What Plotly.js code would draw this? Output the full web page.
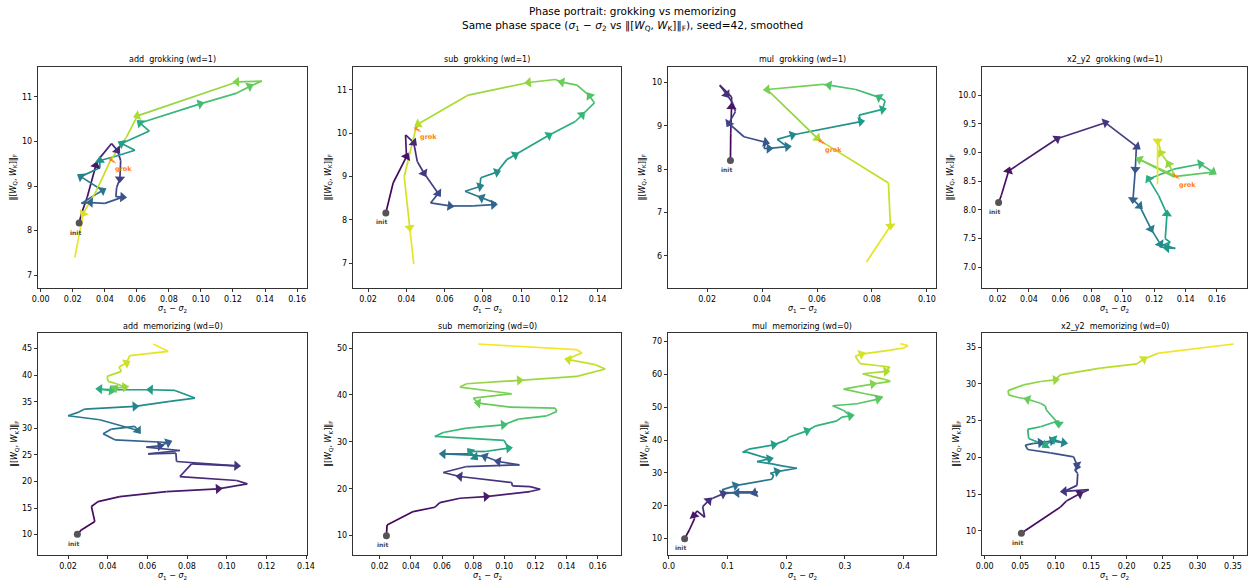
<!DOCTYPE html>
<html><head><meta charset="utf-8">
<script src="https://cdn.plot.ly/plotly-3.0.1.min.js"></script>
<style>html,body{margin:0;padding:0;background:#fff}</style>
</head><body><div id="chart" style="width:1251px;height:584px"></div>
<script>
// ---------- data ----------
const panelTitles = ['add  grokking (wd=1)','sub  grokking (wd=1)','mul  grokking (wd=1)','x2_y2  grokking (wd=1)',
                     'add  memorizing (wd=0)','sub  memorizing (wd=0)','mul  memorizing (wd=0)','x2_y2  memorizing (wd=0)'];

const addGrokX = [0.0240,0.0254,0.0290,0.0344,0.0369,0.0442,0.0478,0.0499,0.0494,0.0474,0.0469,0.0511,0.0400,0.0311,0.0254,0.0348,0.0386,0.0250,0.0369,0.0369,0.0453,0.0588,0.0505,0.0678,0.0620,0.0995,0.1224,0.1304,0.1381,0.1224,0.0603,0.0536,0.0438,0.0348,0.0265,0.0213];
const addGrokY = [8.17,8.38,8.75,9.46,9.63,9.95,9.80,9.57,9.16,8.97,8.76,8.75,8.61,8.63,8.61,8.82,8.90,9.21,9.41,9.57,9.65,9.80,9.95,10.23,10.41,10.84,11.08,11.23,11.35,11.33,10.57,10.10,9.59,8.90,8.38,7.40];
const addGrokArrows = [3,6,8,11,13,16,17,19,22,24,25,27,29,30,34];
const addGrokStep = 32;

const subGrokX = [0.0293,0.0331,0.0401,0.0396,0.0439,0.0457,0.0492,0.0567,0.0527,0.0628,0.0750,0.0855,0.0869,0.0794,0.0707,0.0785,0.0789,0.0873,0.0925,0.0969,0.1145,0.1283,0.1318,0.1383,0.1358,0.1292,0.1213,0.1178,0.1039,0.0724,0.0462,0.0450,0.0389,0.0418,0.0439];
const subGrokY = [8.16,8.85,9.46,9.96,9.78,9.35,9.08,8.61,8.39,8.32,8.32,8.35,8.38,8.51,8.66,8.77,8.97,9.10,9.39,9.50,9.95,10.27,10.42,10.70,10.86,11.11,11.18,11.24,11.17,10.88,10.21,10.11,9.00,7.82,6.98];
const subGrokArrows = [2,4,6,7,9,11,13,15,17,19,20,22,24,26,28,30,33];
const subGrokStep = 31;

const mulGrokX = [0.0285,0.0286,0.0289,0.0289,0.0246,0.0271,0.0294,0.0303,0.0279,0.0334,0.0413,0.0407,0.0425,0.0492,0.0455,0.0510,0.0759,0.0753,0.0838,0.0848,0.0826,0.0741,0.0644,0.0620,0.0419,0.0601,0.0611,0.0860,0.0867,0.0780];
const mulGrokY = [8.20,8.83,9.44,9.67,9.94,9.73,9.52,9.33,9.06,8.75,8.62,8.48,8.48,8.52,8.69,8.79,9.10,9.25,9.38,9.58,9.66,9.84,9.94,9.96,9.84,8.72,8.66,7.68,6.69,5.86];
const mulGrokArrows = [2,5,8,10,12,13,15,16,18,20,22,24,25,28];
const mulGrokStep = 26;

const x2GrokX = [0.0206,0.0223,0.0270,0.0579,0.0887,0.1090,0.1085,0.1079,0.1064,0.1106,0.1179,0.1238,0.1334,0.1281,0.1234,0.1302,0.1270,0.1281,0.1228,0.1164,0.1324,0.1494,0.1575,0.1324,0.1106,0.1217,0.1330,0.1292,0.1243,0.1221,0.1221,0.1221];
const x2GrokY = [8.13,8.25,8.68,9.24,9.52,9.10,9.06,8.71,8.18,8.07,7.67,7.41,7.33,7.34,7.36,7.44,7.50,7.93,8.25,8.54,8.71,8.80,8.66,8.58,8.88,8.74,8.60,8.80,8.99,9.24,9.20,8.45];
const x2GrokArrows = [2,3,4,5,7,8,9,10,11,13,17,19,21,22,24,27,28,30];
const x2GrokStep = 26;

const addMemX = [0.0247,0.0267,0.0335,0.0318,0.0351,0.0461,0.0696,0.0957,0.1104,0.1050,0.0764,0.0823,0.1050,0.0747,0.0744,0.0604,0.0764,0.0595,0.0663,0.0705,0.0436,0.0377,0.0419,0.0537,0.0553,0.0360,0.0200,0.0250,0.0284,0.0537,0.0713,0.0840,0.0739,0.0616,0.0427,0.0360,0.0419,0.0436,0.0486,0.0444,0.0402,0.0397,0.0469,0.0457,0.0495,0.0511,0.0705,0.0629];
const addMemY = [10.06,10.88,12.45,15.28,16.22,17.16,18.10,18.61,19.55,20.18,20.93,23.32,22.94,23.76,25.33,25.21,25.83,26.46,26.71,27.34,27.84,28.97,29.86,30.36,29.60,31.62,32.37,33.00,33.63,34.13,35.07,35.70,37.14,37.27,37.27,37.40,37.08,37.58,37.77,38.40,38.84,39.78,40.73,41.54,42.30,43.68,44.50,45.88];
const addMemArrows = [7,12,18,19,24,29,33,35,36,37,38,44];

const subMemX = [0.0243,0.0247,0.0415,0.0554,0.0586,0.0715,0.0883,0.1166,0.1231,0.1166,0.1052,0.1048,0.0715,0.0608,0.0758,0.1097,0.0962,0.0876,0.0801,0.0608,0.0790,0.0812,0.0780,0.0876,0.1027,0.0999,0.0554,0.0608,0.0758,0.0994,0.1091,0.1273,0.1338,0.1327,0.1037,0.0833,0.0801,0.1048,0.0715,0.0758,0.1097,0.1467,0.1649,0.1585,0.1413,0.1445,0.1499,0.1467,0.0833];
const subMemY = [10.00,12.28,15.13,16.05,17.05,17.97,18.33,19.40,19.89,20.46,20.61,21.32,22.60,23.45,24.73,25.09,25.80,26.87,27.15,27.44,27.44,26.73,27.94,27.94,28.65,30.29,31.14,31.99,32.92,33.63,34.84,35.55,36.48,37.19,37.40,38.26,39.32,40.25,41.67,42.38,43.10,43.95,45.52,46.44,47.51,48.22,48.93,49.64,50.85];
const subMemArrows = [6,12,16,17,19,21,22,24,29,35,40,44];

const mulMemX = [0.0272,0.0352,0.0443,0.0431,0.0482,0.0613,0.0579,0.0681,0.0749,0.0925,0.1192,0.1515,0.1464,0.1163,0.0965,0.0908,0.1135,0.1759,0.1787,0.1731,0.1844,0.2184,0.1929,0.1759,0.1504,0.1714,0.1333,0.1260,0.1362,0.1787,0.2014,0.2043,0.2355,0.2508,0.2865,0.2950,0.3092,0.2979,0.2792,0.3206,0.3563,0.3643,0.3348,0.2979,0.3234,0.3472,0.3773,0.3660,0.3461,0.3302,0.3699,0.3762,0.3575,0.3263,0.3177,0.3280,0.3745,0.4000,0.4074,0.3943];
const mulMemY = [10.00,12.64,16.19,17.01,18.43,16.50,19.75,21.57,22.29,23.61,24.21,24.21,23.91,23.91,24.01,24.82,26.14,28.07,29.39,29.90,30.41,31.42,32.13,32.74,33.45,34.26,36.30,36.30,37.21,38.53,40.05,40.86,42.79,44.32,45.84,46.95,47.36,48.99,50.41,51.02,52.44,53.05,54.06,55.48,56.30,57.01,57.82,58.53,59.34,60.15,60.86,62.18,62.59,63.20,65.43,66.14,67.26,67.97,68.68,69.29];
const mulMemArrows = [3,7,9,12,13,16,20,25,29,32,36,40,45,50,55];

const x2MemX = [0.0517,0.0573,0.1066,0.1151,0.1339,0.1466,0.1123,0.1301,0.1311,0.1268,0.1348,0.1301,0.1254,0.0926,0.0606,0.0573,0.0691,0.0785,0.0949,0.1113,0.0972,0.0855,0.0620,0.0606,0.0785,0.1043,0.1043,0.0869,0.0855,0.0785,0.0606,0.0456,0.0338,0.0329,0.0550,0.0785,0.0996,0.1066,0.1630,0.2147,0.2241,0.2452,0.3509];
const x2MemY = [9.68,10.05,13.23,14.05,15.05,15.60,15.37,16.19,17.79,18.33,18.70,18.93,20.06,20.61,21.07,21.66,21.89,21.98,22.25,21.98,22.43,21.66,22.57,23.80,24.16,24.98,24.53,26.44,26.99,27.35,27.90,28.17,28.49,29.08,29.85,30.31,30.54,31.22,32.13,32.72,33.36,34.18,35.41];
const x2MemArrows = [4,6,11,17,18,19,20,21,26,30,36,40];

// ---------- presentation ----------
const FONT = 'DejaVu Sans, Verdana, sans-serif';
const W = 1251, H = 584;
const colsPx = [[38,307],[353,621],[668,936],[982,1247]];
const rowsPx = [[67,288],[333,555]];
const ylabOff = [[-25,-25,-26,-32],[-23,-24,-23,-25]];

const panels = [
  {x:addGrokX,y:addGrokY,a:addGrokArrows,g:addGrokStep,xr:[-0.0017,0.1662],yr:[6.716,11.665],xd:0.02,x0:0,xf:'.2f',yd:1,y0:0,yf:'d'},
  {x:subGrokX,y:subGrokY,a:subGrokArrows,g:subGrokStep,xr:[0.01214,0.1522],yr:[6.426,11.528],xd:0.02,x0:0,xf:'.2f',yd:1,y0:0,yf:'d'},
  {x:mulGrokX,y:mulGrokY,a:mulGrokArrows,g:mulGrokStep,xr:[0.00577,0.1033],yr:[5.258,10.36],xd:0.02,x0:0,xf:'.2f',yd:1,y0:0,yf:'d'},
  {x:x2GrokX,y:x2GrokY,a:x2GrokArrows,g:x2GrokStep,xr:[0.0100,0.1792],yr:[6.641,10.49],xd:0.02,x0:0,xf:'.2f',yd:0.5,y0:0,yf:'.1f'},
  {x:addMemX,y:addMemY,a:addMemArrows,g:null,xr:[0.00485,0.1405],yr:[6.16,47.95],xd:0.02,x0:0,xf:'.2f',yd:5,y0:0,yf:'d'},
  {x:subMemX,y:subMemY,a:subMemArrows,g:null,xr:[0.00282,0.1750],yr:[5.87,53.2],xd:0.02,x0:0,xf:'.2f',yd:10,y0:0,yf:'d'},
  {x:mulMemX,y:mulMemY,a:mulMemArrows,g:null,xr:[-0.0011,0.4551],yr:[5.03,72.54],xd:0.1,x0:0,xf:'.1f',yd:10,y0:0,yf:'d'},
  {x:x2MemX,y:x2MemY,a:x2MemArrows,g:null,xr:[-0.0038,0.3697],yr:[6.72,36.91],xd:0.05,x0:0,xf:'.2f',yd:5,y0:0,yf:'d'}
];

const VIR = ['#440154','#482475','#414487','#355f8d','#2a788e','#21918c','#22a884','#44bf70','#7ad151','#bddf26','#fde725'];
function hx(h){return [parseInt(h.slice(1,3),16),parseInt(h.slice(3,5),16),parseInt(h.slice(5,7),16)];}
function viridis(t){t=Math.max(0,Math.min(1,t));const s=t*10;const i=Math.min(9,Math.floor(s));const f=s-i;const a=hx(VIR[i]),b=hx(VIR[i+1]);return 'rgb('+a.map((v,j)=>Math.round(v+(b[j]-v)*f)).join(',')+')';}
function timeOf(n,arrows){
  const anc=[[0,0]];arrows.forEach((a,k)=>anc.push([a,(k+1)/(arrows.length+1)]));anc.push([n-1,1]);
  const t=[];
  for(let i=0;i<n;i++){for(let j=0;j<anc.length-1;j++){if(i>=anc[j][0]&&i<=anc[j+1][0]){const d=anc[j+1][0]-anc[j][0];t.push(d?anc[j][1]+(anc[j+1][1]-anc[j][1])*(i-anc[j][0])/d:anc[j][1]);break;}}}
  return t;
}

const traces=[]; const layout={width:W,height:H,margin:{l:0,r:0,t:0,b:0},paper_bgcolor:'#fff',plot_bgcolor:'#fff',
  showlegend:false,hovermode:false,font:{family:FONT,size:8,color:'#000'},annotations:[]};
const ann=layout.annotations;

panels.forEach((p,k)=>{
  const r=Math.floor(k/4), c=k%4, id=k+1, sx=id===1?'':String(id);
  const xa='x'+sx, ya='y'+sx;
  const cx=colsPx[c], ry=rowsPx[r];
  const axCommon={showline:true,mirror:true,linecolor:'#000',linewidth:0.8,ticks:'outside',ticklen:3.5,tickwidth:0.8,tickcolor:'#000',
    showgrid:false,zeroline:false,tickfont:{family:FONT,size:8,color:'#000'},fixedrange:true};
  layout['xaxis'+sx]=Object.assign({},axCommon,{domain:[cx[0]/W,cx[1]/W],range:p.xr,anchor:ya,dtick:p.xd,tick0:p.x0,tickformat:p.xf});
  layout['yaxis'+sx]=Object.assign({},axCommon,{domain:[1-ry[1]/H,1-ry[0]/H],range:p.yr,anchor:xa,dtick:p.yd,tick0:p.y0,tickformat:p.yf});
  const n=p.x.length, t=timeOf(n,p.a);
  for(let i=0;i<n-1;i++){
    traces.push({type:'scatter',mode:'lines',x:[p.x[i],p.x[i+1]],y:[p.y[i],p.y[i+1]],xaxis:xa,yaxis:ya,
      line:{color:viridis((t[i]+t[i+1])/2),width:1.7},hoverinfo:'skip'});
  }
  const isA=new Set(p.a);
  traces.push({type:'scatter',mode:'markers',x:p.x,y:p.y,xaxis:xa,yaxis:ya,hoverinfo:'skip',
    marker:{symbol:'triangle-up',angleref:'previous',opacity:1,size:p.x.map((_,i)=>isA.has(i)?9:0),color:t.map(viridis),line:{width:0}}});
  traces.push({type:'scatter',mode:'markers',x:[p.x[0]],y:[p.y[0]],xaxis:xa,yaxis:ya,hoverinfo:'skip',
    marker:{symbol:'circle',size:7,color:'#555555',opacity:1}});
  ann.push({xref:xa,yref:ya,x:p.x[0],y:p.y[0],text:'<b>init</b>',showarrow:false,xshift:-4,yshift:-9,font:{size:6,color:'#444',family:FONT}});
  if(p.g!==null){
    const gx=p.x[p.g], gy=p.y[p.g];
    traces.push({type:'scatter',mode:'markers',x:[gx],y:[gy],xaxis:xa,yaxis:ya,hoverinfo:'skip',marker:{symbol:'star',size:4,color:'#ff7f0e'}});
    ann.push({xref:xa,yref:ya,x:gx,y:gy,text:'<b>grok</b>',showarrow:true,ax:13,ay:9,arrowcolor:'#ff7f0e',arrowwidth:0.8,arrowhead:2,arrowsize:0.7,standoff:1,
      font:{size:6.5,color:'#ff7f0e',family:FONT}});
  }
  ann.push({xref:'paper',yref:'paper',x:(cx[0]+cx[1])/2/W,y:1-(ry[0]-7)/H,text:panelTitles[k],showarrow:false,xanchor:'center',yanchor:'middle',font:{size:8,family:FONT,color:'#000'}});
  ann.push({xref:'paper',yref:'paper',x:(cx[0]+cx[1])/2/W,y:1-(ry[1]+21)/H,text:'<i>σ</i><sub>1</sub> − <i>σ</i><sub>2</sub>',showarrow:false,xanchor:'center',yanchor:'middle',font:{size:8,family:FONT,color:'#000'}});
  ann.push({xref:'paper',yref:'paper',x:(cx[0]+ylabOff[r][c])/W,y:1-(ry[0]+ry[1])/2/H,text:'‖[<i>W</i><sub>Q</sub>, <i>W</i><sub>K</sub>]‖<sub>F</sub>',showarrow:false,textangle:-90,xanchor:'center',yanchor:'middle',font:{size:8,family:FONT,color:'#000'}});
});

ann.push({xref:'paper',yref:'paper',x:632/W,y:1-19/H,xanchor:'center',yanchor:'middle',showarrow:false,
  text:'Phase portrait: grokking vs memorizing<br>Same phase space (<i>σ</i><sub>1</sub> − <i>σ</i><sub>2</sub> vs ‖[<i>W</i><sub>Q</sub>, <i>W</i><sub>K</sub>]‖<sub>F</sub>), seed=42, smoothed',
  font:{size:10.5,family:FONT,color:'#000'}});

Plotly.newPlot('chart',traces,layout,{staticPlot:true,displayModeBar:false});
</script></body></html>
